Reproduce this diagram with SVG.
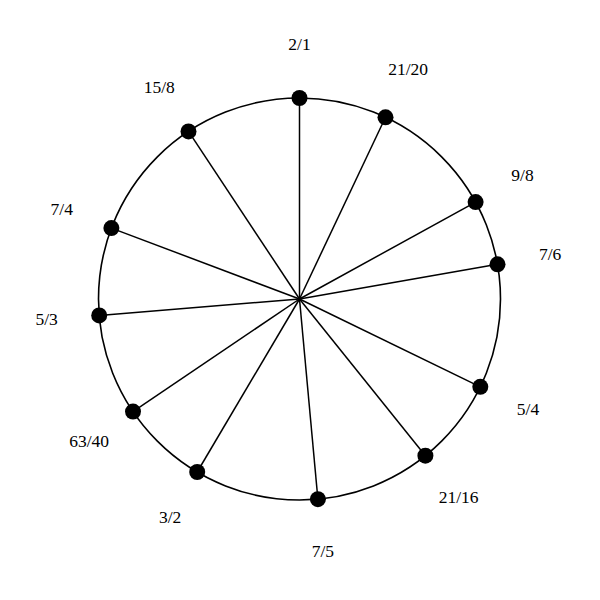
<svg xmlns="http://www.w3.org/2000/svg" width="600" height="600" viewBox="0 0 600 600">
<style>
.ring{fill:none;stroke:#000;stroke-width:1.6}
.spoke{stroke:#000;stroke-width:1.5}
.dot{fill:#000}
.lbl{font-family:"Liberation Serif","Times New Roman",serif;font-size:17.5px;fill:#000;text-anchor:middle}
</style>
<rect width="600" height="600" fill="#fff"/>
<circle class="ring" cx="299.5" cy="299" r="201"/>
<g id="connectors">
<line class="spoke" x1="299.5" y1="299" x2="299.5" y2="98"/>
<line class="spoke" x1="299.5" y1="299" x2="385.5" y2="117.3"/>
<line class="spoke" x1="299.5" y1="299" x2="475.6" y2="202.1"/>
<line class="spoke" x1="299.5" y1="299" x2="497.5" y2="264.3"/>
<line class="spoke" x1="299.5" y1="299" x2="480.3" y2="386.8"/>
<line class="spoke" x1="299.5" y1="299" x2="425.4" y2="455.7"/>
<line class="spoke" x1="299.5" y1="299" x2="317.9" y2="499.2"/>
<line class="spoke" x1="299.5" y1="299" x2="197.2" y2="472.0"/>
<line class="spoke" x1="299.5" y1="299" x2="133.0" y2="411.6"/>
<line class="spoke" x1="299.5" y1="299" x2="99.2" y2="315.4"/>
<line class="spoke" x1="299.5" y1="299" x2="111.4" y2="228.1"/>
<line class="spoke" x1="299.5" y1="299" x2="188.5" y2="131.4"/>
</g>
<g id="n-2-1"><circle class="dot" cx="299.5" cy="98" r="8"/><text class="lbl" x="299.5" y="50">2/1</text></g>
<g id="n-21-20"><circle class="dot" cx="385.5" cy="117.3" r="8"/><text class="lbl" x="408.2" y="74.6">21/20</text></g>
<g id="n-9-8"><circle class="dot" cx="475.6" cy="202.1" r="8"/><text class="lbl" x="522.5" y="181">9/8</text></g>
<g id="n-7-6"><circle class="dot" cx="497.5" cy="264.3" r="8"/><text class="lbl" x="550.2" y="260.3">7/6</text></g>
<g id="n-5-4"><circle class="dot" cx="480.3" cy="386.8" r="8"/><text class="lbl" x="528" y="415.4">5/4</text></g>
<g id="n-21-16"><circle class="dot" cx="425.4" cy="455.7" r="8"/><text class="lbl" x="458.6" y="502.5">21/16</text></g>
<g id="n-7-5"><circle class="dot" cx="317.9" cy="499.2" r="8"/><text class="lbl" x="322.9" y="557.4">7/5</text></g>
<g id="n-3-2"><circle class="dot" cx="197.2" cy="472" r="8"/><text class="lbl" x="170.2" y="523.1">3/2</text></g>
<g id="n-63-40"><circle class="dot" cx="133" cy="411.6" r="8"/><text class="lbl" x="89.1" y="446.8">63/40</text></g>
<g id="n-5-3"><circle class="dot" cx="99.2" cy="315.4" r="8"/><text class="lbl" x="46.6" y="325.1">5/3</text></g>
<g id="n-7-4"><circle class="dot" cx="111.4" cy="228.1" r="8"/><text class="lbl" x="61.8" y="215">7/4</text></g>
<g id="n-15-8"><circle class="dot" cx="188.5" cy="131.4" r="8"/><text class="lbl" x="159.2" y="92.7">15/8</text></g>
</svg>
